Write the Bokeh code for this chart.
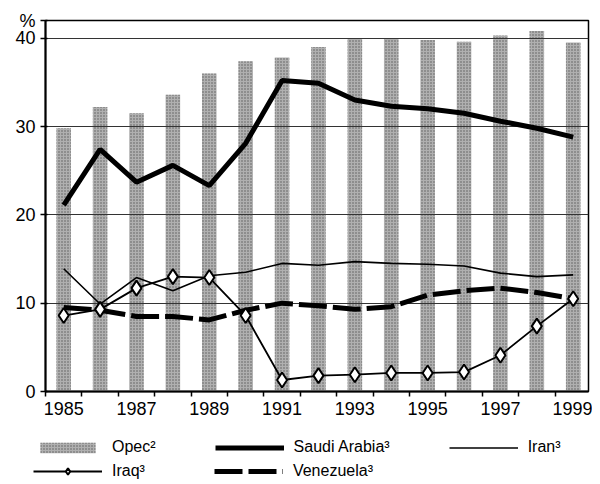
from bokeh.plotting import figure
from bokeh.layouts import column, row
from bokeh.models import FixedTicker, Legend, LegendItem, Range1d, ColumnDataSource
from bokeh.embed import file_html
from bokeh.resources import INLINE

years = list(range(1985, 2000))
opec = [29.8, 32.2, 31.5, 33.6, 36.0, 37.4, 37.8, 39.0, 40.0, 39.9, 39.8, 39.6, 40.3, 40.8, 39.5]
saudi = [21.1, 27.4, 23.7, 25.6, 23.3, 28.1, 35.2, 34.9, 33.0, 32.3, 32.0, 31.5, 30.6, 29.8, 28.8]
iran = [13.9, 9.9, 12.9, 11.4, 13.1, 13.5, 14.5, 14.3, 14.7, 14.5, 14.4, 14.2, 13.4, 13.0, 13.2]
iraq = [8.6, 9.3, 11.7, 13.0, 12.9, 8.6, 1.3, 1.8, 1.9, 2.1, 2.1, 2.2, 4.1, 7.4, 10.5]
venezuela = [9.5, 9.2, 8.5, 8.5, 8.1, 9.2, 10.0, 9.7, 9.3, 9.6, 10.9, 11.4, 11.7, 11.2, 10.5]

x_labels = [1985, 1987, 1989, 1991, 1993, 1995, 1997, 1999]
y_ticks = [0, 10, 20, 30, 40]
unit_label = "%"

FONT = "Liberation Sans"

src = ColumnDataSource(dict(year=years, opec=opec, saudi=saudi, iran=iran,
                            iraq=iraq, venezuela=venezuela))

BAR = dict(fill_color="#b0b0b0", line_color=None, hatch_pattern="dot",
           hatch_color="#5a5a5a", hatch_scale=3, hatch_weight=1)
SAUDI = dict(line_color="black", line_width=5)
IRAN = dict(line_color="black", line_width=1.6)
VEN = dict(line_color="black", line_width=5, line_dash="28 6")
IRAQ_L = dict(line_color="black", line_width=1.8)
IRAQ_M = dict(marker="diamond", size=15, fill_color="white", line_color="black",
              line_width=2)

Y_TOP = 42.0
p = figure(width=592, height=428, output_backend="svg", toolbar_location=None,
           x_range=Range1d(1984.5, 1999.42), y_range=Range1d(0, Y_TOP),
           min_border_left=45, min_border_right=4, min_border_top=20,
           min_border_bottom=37)
p.background_fill_color = "white"
p.border_fill_color = "white"
p.outline_line_color = "black"
p.outline_line_width = 1.5

p.vbar(x="year", top="opec", width=0.4, bottom=0, source=src, level="image", **BAR)
p.line("year", "saudi", source=src, **SAUDI)
p.line("year", "iran", source=src, **IRAN)
p.line("year", "venezuela", source=src, **VEN)
p.line("year", "iraq", source=src, **IRAQ_L)
p.scatter("year", "iraq", source=src, **IRAQ_M)

# axes
p.xgrid.grid_line_color = None
p.ygrid.ticker = FixedTicker(ticks=[10, 20, 30, 40])
p.ygrid.grid_line_color = "#333333"
p.ygrid.grid_line_width = 1

p.xaxis.ticker = FixedTicker(ticks=x_labels,
                             minor_ticks=[y + 0.5 for y in range(1984, 2000)])
p.xaxis.major_tick_line_color = None
p.xaxis.minor_tick_line_color = "black"
p.xaxis.minor_tick_line_width = 1.5
p.xaxis.minor_tick_out = 5
p.xaxis.minor_tick_in = 0
p.xaxis.major_label_standoff = 4

p.yaxis.ticker = FixedTicker(ticks=y_ticks + [Y_TOP])
p.yaxis.major_label_overrides = {Y_TOP: unit_label}
p.yaxis.major_tick_out = 5
p.yaxis.major_tick_in = 2
p.yaxis.major_tick_line_width = 1.5
p.yaxis.minor_tick_line_color = None
p.yaxis.major_label_standoff = 5

for ax in (p.xaxis, p.yaxis):
    ax.axis_line_color = "black"
    ax.axis_line_width = 2
    ax.major_label_text_font = FONT
    ax.major_label_text_font_size = "18px"
    ax.major_label_text_color = "black"

# legend strip: separate figure whose view range excludes the data, so its
# glyphs only serve as legend swatches
lf = figure(width=592, height=56, output_backend="svg", toolbar_location=None,
            x_range=Range1d(0, 1), y_range=Range1d(0, 1),
            x_axis_type=None, y_axis_type=None,
            min_border_left=0, min_border_right=0, min_border_top=0,
            min_border_bottom=0)
lf.outline_line_color = None
lf.xgrid.visible = False
lf.ygrid.visible = False
lf.background_fill_color = "white"
lf.border_fill_color = "white"

g_opec = lf.vbar(x="year", top="opec", width=0.4, source=src, **BAR)
g_saudi = lf.line("year", "saudi", source=src, **SAUDI)
g_iran = lf.line("year", "iran", source=src, **IRAN)
g_ven = lf.line("year", "venezuela", source=src, **VEN)
g_iraq_l = lf.line("year", "iraq", source=src, **IRAQ_L)
g_iraq_m = lf.scatter("year", "iraq", source=src, **IRAQ_M)

def add_row(items, x, y, spacing, gh=16):
    lg = Legend(items=items, location=(x, y), orientation="horizontal",
                glyph_width=69, glyph_height=gh, label_height=16,
                label_standoff=10, spacing=spacing, padding=0, margin=0,
                border_line_color=None, background_fill_alpha=0,
                label_text_font=FONT, label_text_font_size="16px",
                label_text_color="black")
    lf.add_layout(lg, "center")

add_row([LegendItem(label="Opec\u00b2", renderers=[g_opec], index=0),
         LegendItem(label="Saudi Arabia\u00b3", renderers=[g_saudi], index=0),
         LegendItem(label="Iran\u00b3", renderers=[g_iran], index=0)],
        33, 28, 59, gh=13)
add_row([LegendItem(label="Iraq\u00b3", renderers=[g_iraq_l, g_iraq_m], index=0),
         LegendItem(label="Venezuela\u00b3", renderers=[g_ven], index=0)],
        33, 4, 69)

open("out.html", "w").write(file_html(column(p, row(lf), spacing=0), INLINE))
